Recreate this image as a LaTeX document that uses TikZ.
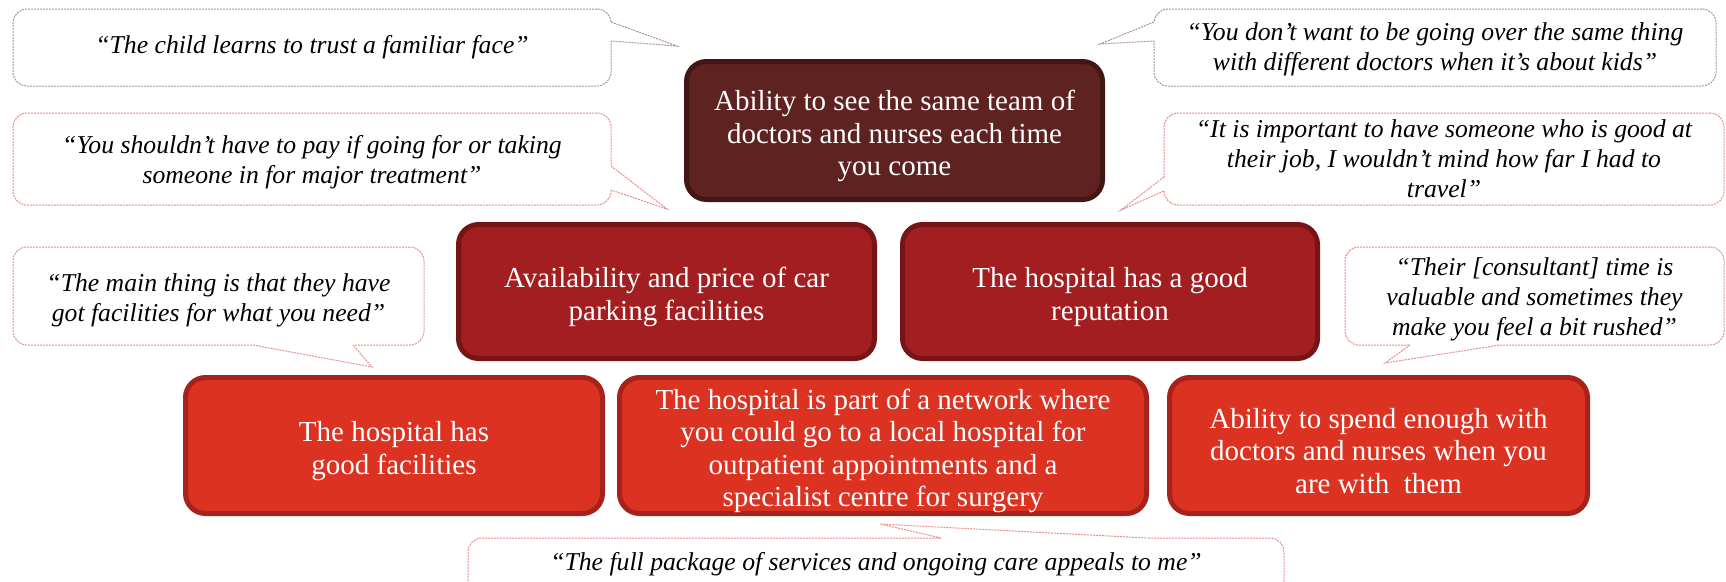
\documentclass[tikz,border=0pt]{standalone}
\usepackage{fontspec}
\setmainfont{Liberation Serif}
\usetikzlibrary{calc}

\definecolor{topfill}{RGB}{94,35,32}
\definecolor{topedge}{RGB}{66,23,19}
\definecolor{midfill}{RGB}{162,30,32}
\definecolor{midedge}{RGB}{118,20,22}
\definecolor{lowfill}{RGB}{220,50,34}
\definecolor{lowedge}{RGB}{166,34,26}
\definecolor{greyline}{RGB}{172,148,148}
\definecolor{pinkline}{RGB}{236,140,140}

\tikzset{
  prio/.style={rounded corners=20pt, line width=5pt, inner sep=0pt},
  priotext/.style={text=white, align=center, inner sep=0pt, font=\fontsize{29}{32.5}\selectfont},
  quote/.style={rounded corners=14pt, line width=1pt, dash pattern=on 2pt off 1pt,
    fill=white, inner sep=0pt},
  quotetext/.style={align=center, inner sep=0pt, font=\fontsize{25.7}{30}\selectfont\itshape},
  tailline/.style={line width=1pt, dash pattern=on 2pt off 1pt},
}

\begin{document}
\begin{tikzpicture}[x=1pt,y=-1pt]
\useasboundingbox (0,0) rectangle (1726,581);
\clip (0,0) rectangle (1726,581);
\fill[white] (0,0) rectangle (1726,581);

% priority boxes
\node[prio, fill=topfill, draw=topedge, minimum width=416pt, minimum height=138pt] (top) at (894.5,130.5) {};
\node[prio, fill=midfill, draw=midedge, minimum width=416pt, minimum height=134pt] (park) at (666.5,291.5) {};
\node[prio, fill=midfill, draw=midedge, minimum width=415pt, minimum height=134pt] (rep) at (1110,291.5) {};
\node[prio, fill=lowfill, draw=lowedge, minimum width=417pt, minimum height=136pt] (fac) at (394,445.5) {};
\node[prio, fill=lowfill, draw=lowedge, minimum width=527pt, minimum height=136pt] (net) at (883,445.5) {};
\node[prio, fill=lowfill, draw=lowedge, minimum width=418pt, minimum height=136pt] (time) at (1378.5,445.5) {};

\node[priotext] (topT) at ($(top.center)+(0,5.5)$)
  {Ability to see the same team of\\doctors and nurses each time\\you come};
\node[priotext] (parkT) at ($(park.center)+(0,5.5)$)
  {Availability and price of car\\parking facilities};
\node[priotext] (repT) at ($(rep.center)+(0,5.5)$)
  {The hospital has a good\\reputation};
\node[priotext] (facT) at ($(fac.center)+(0,5.5)$)
  {The hospital has\\good facilities};
\node[priotext] (netT) at ($(net.center)+(0,5.5)$)
  {The hospital is part of a network where\\you could go to a local hospital for\\outpatient appointments and a\\specialist centre for surgery};
\node[priotext] (timeT) at ($(time.center)+(0,5.5)$)
  {Ability to spend enough with\\doctors and nurses when you\\are with~ them};

% quotation callouts
\node[quote, draw=greyline, minimum width=598pt, minimum height=77pt] (qA) at (312,47.5) {};
\node[quote, draw=greyline, minimum width=562pt, minimum height=77pt] (qB) at (1435,47.5) {};
\node[quote, draw=pinkline, minimum width=598pt, minimum height=92pt] (qC) at (312,159) {};
\node[quote, draw=pinkline, minimum width=560pt, minimum height=92pt] (qD) at (1444,159) {};
\node[quote, draw=pinkline, minimum width=411pt, minimum height=98pt] (qE) at (218.5,296) {};
\node[quote, draw=pinkline, minimum width=379pt, minimum height=98pt] (qF) at (1534.5,296) {};
\node[quote, draw=pinkline, minimum width=816pt, minimum height=56pt] (qG) at (876,566) {};

% callout tails
\coordinate (tA) at (677,46);
\fill[white] (607,22) -- (612,22) -- (tA) -- (612,41) -- (607,41) -- cycle;
\draw[tailline, greyline] (611,22) -- (tA) -- (611,41);

\coordinate (tB) at (1100,44);
\fill[white] (1158,22) -- (1153,22) -- (tB) -- (1153,41) -- (1158,41) -- cycle;
\draw[tailline, greyline] (1154,22) -- (tB) -- (1154,41);

\coordinate (tC) at (667,209);
\fill[white] (607,166) -- (612,166) -- (tC) -- (612,190) -- (607,190) -- cycle;
\draw[tailline, pinkline] (611,166) -- (tC) -- (611,190);

\coordinate (tD) at (1121,210);
\fill[white] (1168,177) -- (1163,177) -- (tD) -- (1163,191) -- (1168,191) -- cycle;
\draw[tailline, pinkline] (1164,177) -- (tD) -- (1164,191);

\coordinate (tE) at (372,367);
\fill[white] (253,341) -- (253,346) -- (tE) -- (353,346) -- (353,341) -- cycle;
\draw[tailline, pinkline] (253,345) -- (tE) -- (353,345);

\coordinate (tF) at (1385,363);
\fill[white] (1410,341) -- (1410,346) -- (tF) -- (1500,346) -- (1500,341) -- cycle;
\draw[tailline, pinkline] (1410,345) -- (tF) -- (1500,345);

\coordinate (tG) at (880,524);
\fill[white] (941,542) -- (941,537) -- (tG) -- (1147,537) -- (1147,542) -- cycle;
\draw[tailline, pinkline] (941,538) -- (tG) -- (1147,538);

% quotation texts
\node[quotetext] (qAT) at ($(qA.center)+(0,0)$)
  {“The child learns to trust a familiar face”};
\node[quotetext] (qBT) at ($(qB.center)+(0,2)$)
  {“You don’t want to be going over the same thing\\with different doctors when it’s about kids”};
\node[quotetext] (qCT) at ($(qC.center)+(0,3)$)
  {“You shouldn’t have to pay if going for or taking\\someone in for major treatment”};
\node[quotetext] (qDT) at ($(qD.center)+(0,0)$)
  {“It is important to have someone who is good at\\their job, I wouldn’t mind how far I had to\\travel”};
\node[quotetext] (qET) at ($(qE.center)+(0,4)$)
  {“The main thing is that they have\\got facilities for what you need”};
\node[quotetext] (qFT) at ($(qF.center)+(0,3)$)
  {“Their [consultant] time is\\valuable and sometimes they\\make you feel a bit rushed”};
\node[quotetext] (qGT) at ($(qG.center)+(0,-2)$)
  {“The full package of services and ongoing care appeals to me”};
\end{tikzpicture}
\end{document}
